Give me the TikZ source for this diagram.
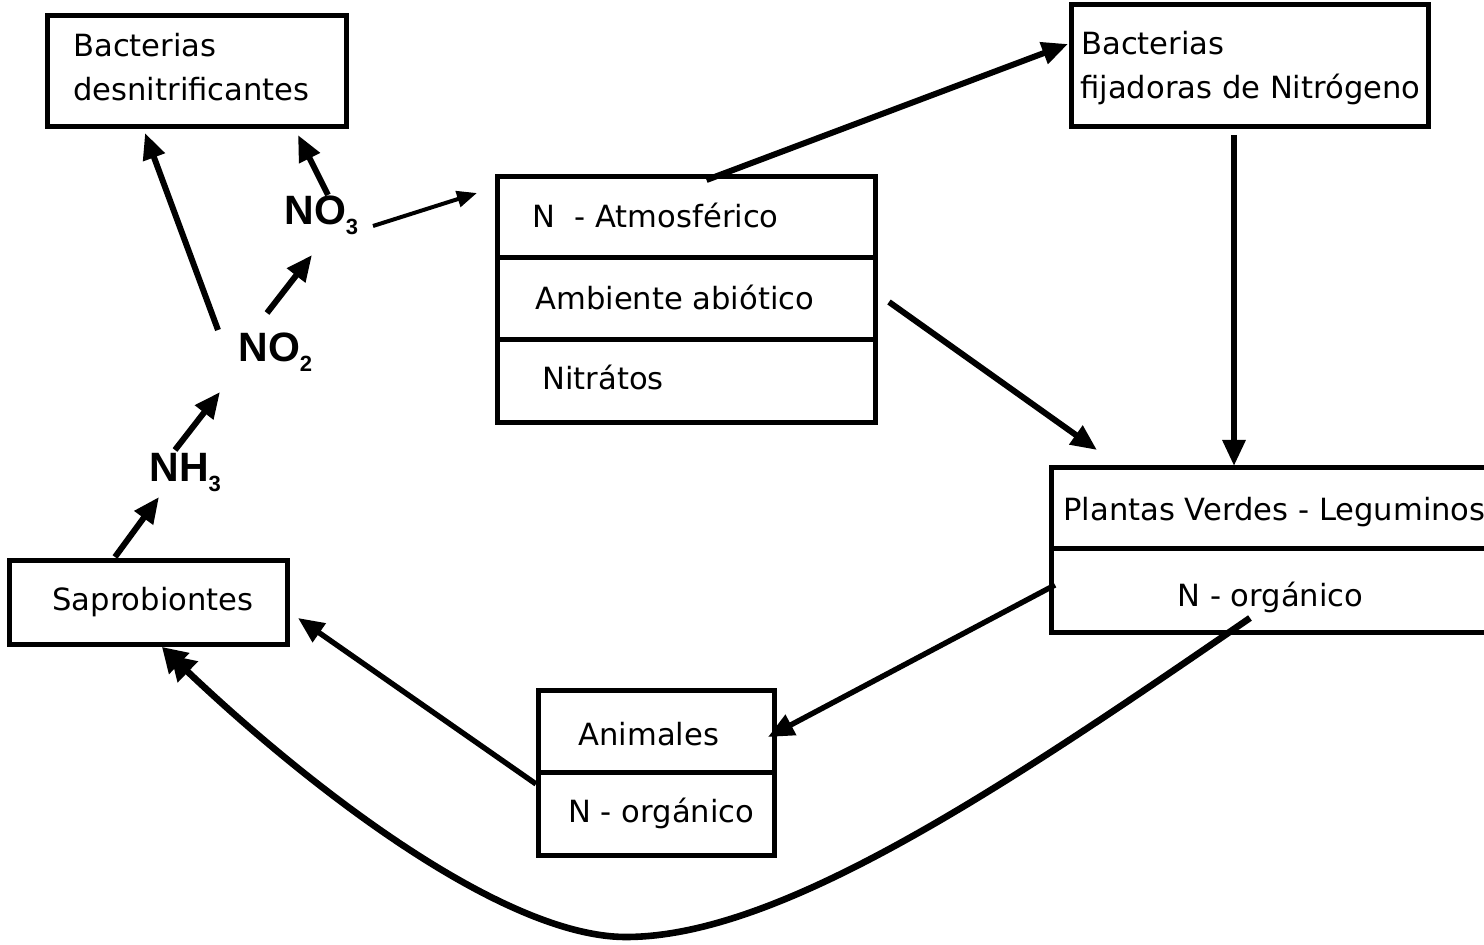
\documentclass[tikz,border=0pt]{standalone}
\usepackage{fontspec}
\setmainfont{DejaVu Sans}
\newfontfamily\chemfont{Liberation Sans}
\usetikzlibrary{arrows.meta,calc}
\newcommand{\chem}[2]{{\chemfont\bfseries\fontsize{20.5}{24}\selectfont #1\raisebox{-5pt}{\fontsize{11}{13}\selectfont #2}}}
\begin{document}
\begin{tikzpicture}[x=0.5pt,y=-0.5pt,
  box/.style={draw, line width=2.5pt, inner sep=0pt},
  txt/.style={anchor=base west, inner sep=0pt, font=\fontsize{15.3}{18}\selectfont},
  lbl/.style={anchor=base west, inner sep=0pt},
  arr/.style={line width=3pt, -{Triangle[length=13pt,width=11pt]}},
  arrthin/.style={line width=2pt, -{Triangle[length=10pt,width=8pt]}},
  arrbig/.style={line width=3.3pt, -{Triangle[length=12pt,width=14pt,sep=-6pt]Triangle[length=12pt,width=14pt]}}]
\useasboundingbox (0,0) rectangle (1484,945);
\fill[white] (0,0) rectangle (1484,945);
\clip (0,0) rectangle (1484,945);

% boxes
\node[box, minimum width=149.5pt, minimum height=55.5pt] (desn) at (196.5,71.5) {};
\node[box, minimum width=178.5pt, minimum height=61pt] (fij) at (1249.5,66) {};
\node[box, minimum width=189pt, minimum height=40.5pt] (atm) at (686,217.5) {};
\node[box, minimum width=189pt, minimum height=41pt] (amb) at (686,299) {};
\node[box, minimum width=189pt, minimum height=41.5pt] (nit) at (686,381.5) {};
\node[box, minimum width=244.5pt, minimum height=40.5pt] (plant) at (1295.5,508.5) {};
\node[box, minimum width=244.5pt, minimum height=42pt] (norgP) at (1295.5,591) {};
\node[box, minimum width=139pt, minimum height=42pt] (sap) at (148,603) {};
\node[box, minimum width=118pt, minimum height=41pt] (anim) at (656,732) {};
\node[box, minimum width=118pt, minimum height=41.5pt] (norgA) at (656,814.5) {};

% texts
\node[txt] (t1) at (73,57) {Bacterias};
\node[txt] (t2) at (73,101) {desnitrificantes};
\node[txt] (t3) at (1081,55) {Bacterias};
\node[txt] (t4) at (1080,99) {fijadoras de Nitrógeno};
\node[txt] (t5) at (532,228) {N\ \ - Atmosférico};
\node[txt] (t6) at (535,310) {Ambiente abiótico};
\node[txt] (t7) at (542,390) {Nitrátos};
\node[txt] (t8) at (1063,521) {Plantas Verdes - Leguminosa};
\node[txt] (t9) at (1177,607) {N - orgánico};
\node[txt] (t10) at (52,611) {Saprobiontes};
\node[txt] (t11) at (578,746) {Animales};
\node[txt] (t12) at (568,823) {N - orgánico};

% chemical labels
\node[lbl] (no3) at (284,225) {\chem{NO}{3}};
\node[lbl] (no2) at (238,362) {\chem{NO}{2}};
\node[lbl] (nh3) at (149,482) {\chem{NH}{3}};

% connectors
\draw[arr] ($(no2.base west)+(-20,-32)$) -- ($(desn)+(-51.5,61.5)$);
\draw[arr] ($(no3.base west)+(44,-30)$) -- ($(desn)+(101.5,63.5)$);
\draw[arr] ($(no2.base west)+(29,-49)$) -- ($(no3.base west)+(28,30)$);
\draw[arr] ($(nh3.base west)+(26,-32)$) -- ($(no2.base west)+(-18,30)$);
\draw[arr] ($(sap)+(-33,-46)$) -- ($(nh3.base west)+(10,15)$);
\draw[arrthin] ($(no3.base west)+(89,1)$) -- ($(atm)+(-209,-24.5)$);
\draw[arr] ($(atm)+(20.5,-37.5)$) -- ($(fij)+(-181.5,-22)$);
\draw[arr] ($(amb)+(203,3)$) -- ($(plant)+(-198.5,-58.5)$);
\draw[arr] ($(fij)+(-15.5,69)$) -- ($(plant)+(-61.5,-42.5)$);
\draw[arr, line width=2.7pt] ($(norgP)+(-240.5,-6)$) -- ($(anim)+(112,5)$);
\draw[arr, line width=2.7pt] ($(norgA)+(-120,-30.5)$) -- ($(sap)+(150,15)$);
\coordinate (bottom) at (626,937);
\draw[arrbig] ($(norgP)+(-45.5,27)$) .. controls (1000,790) and (780,937) .. (bottom)
  .. controls (500,937) and (300,780) .. ($(sap)+(14,44)$);
\end{tikzpicture}
\end{document}
